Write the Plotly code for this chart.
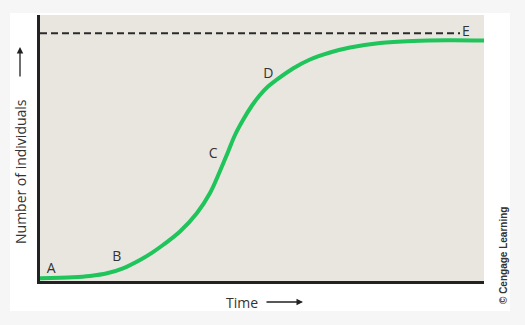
import plotly.graph_objects as go

# Logistic growth curve, x: time units 0-100, y: individuals 0-100
time_vals = [0, 7.43, 11.26, 15.09, 18.69, 22.52, 25.1, 27.70, 31.53, 35.36, 38.29, 40.54, 42.34,
             43.92, 45.72, 47.75, 49.55, 51.35, 53.38, 56.98, 60.81, 65.32, 69.82, 76.58, 84.01, 91.67, 100]
individuals = [1.02, 1.39, 1.88, 2.89, 4.77, 7.89, 10.5, 13.53, 18.61, 25.56, 33.08, 41.35, 48.50,
               54.89, 60.53, 65.98, 69.92, 73.1, 75.75, 79.89, 83.27, 85.90, 87.78, 89.47, 90.23, 90.49, 90.41]

carrying_capacity = 93.1
cap_x = [0, 94.6]

point_labels = ["A", "B", "C", "D", "E"]
label_x = [2.5, 17.3, 39.0, 51.4, 95.9]
label_y = [4.5, 9.0, 47.4, 77.8, 93.6]

W, H = 525, 325
L, R, T, B = 40, 41, 15, 44
PW, PH = W - L - R, H - T - B

def px(x):
    return (x - L) / PW

def py(y):
    return (H - B - y) / PH

fig = go.Figure()
fig.add_trace(go.Scatter(x=cap_x, y=[carrying_capacity] * 2, mode="lines",
                         line=dict(color="#2b2b2b", width=2, dash="7px,4px"), hoverinfo="skip"))
fig.add_trace(go.Scatter(x=time_vals, y=individuals, mode="lines", line_shape="spline",
                         line=dict(color="#1fc45b", width=4, smoothing=1.0), hoverinfo="skip"))
fig.add_trace(go.Scatter(x=label_x, y=label_y, mode="text", text=point_labels,
                         textfont=dict(family="Open Sans", size=14, color="#333333"), hoverinfo="skip"))

font = "Open Sans"
annotations = [
    dict(text="Number of individuals", x=px(20), y=py(172), xref="paper", yref="paper",
         xanchor="center", yanchor="middle",
         textangle=-90, showarrow=False, font=dict(family=font, size=14, color="#333333")),
    dict(text="", x=px(20), y=py(47), xref="paper", yref="paper", ax=0, ay=31,
         showarrow=True, arrowhead=2, arrowsize=1, arrowwidth=1.3, arrowcolor="#222222"),
    dict(text="Time", x=px(241.5), y=py(302), xref="paper", yref="paper",
         xanchor="center", yanchor="middle",
         showarrow=False, font=dict(family=font, size=14, color="#333333")),
    dict(text="", x=px(303), y=py(302), xref="paper", yref="paper", ax=-38, ay=0,
         showarrow=True, arrowhead=2, arrowsize=1, arrowwidth=1.3, arrowcolor="#222222"),
    dict(text="<b>© Cengage Learning</b>", x=px(503), y=py(255), xref="paper", yref="paper",
         xanchor="center", yanchor="middle",
         textangle=-90, showarrow=False,
         font=dict(family="Liberation Sans Narrow, Arial Narrow, Liberation Sans", size=10, color="#333333")),
]

shapes = [
    dict(type="rect", xref="paper", yref="paper", x0=px(10), x1=px(510), y0=py(311), y1=py(13),
         fillcolor="white", line=dict(width=0), layer="below"),
    dict(type="rect", xref="paper", yref="paper", x0=0, x1=1, y0=0, y1=1,
         fillcolor="#e9e6df", line=dict(width=0), layer="below"),
]

fig.update_layout(
    width=W, height=H,
    margin=dict(l=L, r=R, t=T, b=B, pad=0),
    paper_bgcolor="#f6f6f6",
    plot_bgcolor="#e9e6df",
    showlegend=False,
    xaxis=dict(range=[0, 100], showgrid=False, zeroline=False, showticklabels=False, ticks="",
               showline=True, linecolor="#222222", linewidth=2.5, fixedrange=True),
    yaxis=dict(range=[0, 100], showgrid=False, zeroline=False, showticklabels=False, ticks="",
               showline=True, linecolor="#222222", linewidth=2.5, fixedrange=True),
    annotations=annotations,
    shapes=shapes,
)

fig.write_html("out.html")
